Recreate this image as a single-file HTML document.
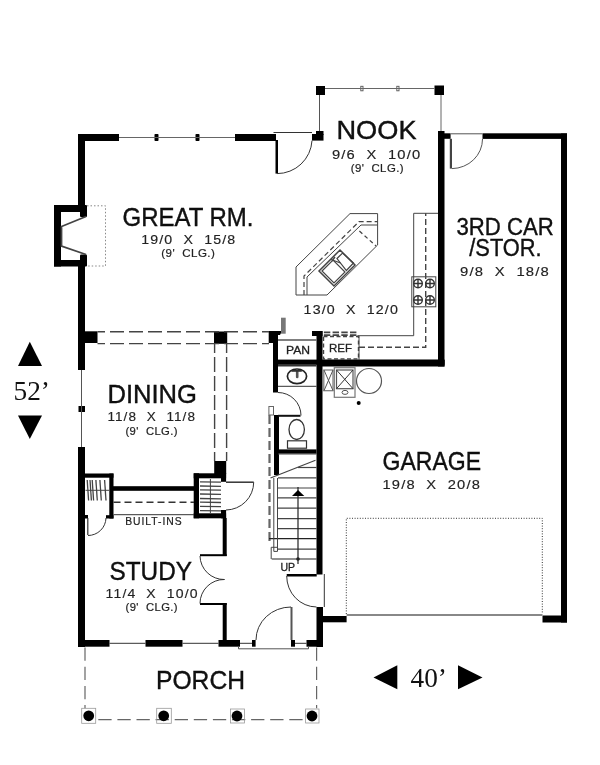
<!DOCTYPE html>
<html><head><meta charset="utf-8"><title>Floor Plan</title>
<style>
html,body{margin:0;padding:0;background:#fff;width:600px;height:765px;overflow:hidden}
svg{display:block;filter:grayscale(1)}
text{font-family:"Liberation Sans",sans-serif;fill:#111}
.t{font-size:25px;stroke:#000;stroke-width:0.35px}
.d{font-size:12.5px;white-space:pre;fill:#222;stroke:#222;stroke-width:0.15px;letter-spacing:1px}
.c{font-size:10.5px;white-space:pre;fill:#222;stroke:#222;stroke-width:0.2px;letter-spacing:0.4px}
.u{font-size:11px;fill:#222;stroke:#222;stroke-width:0.3px}
.s{font-family:"Liberation Serif",serif;font-size:27.3px}
</style></head><body>
<svg width="600" height="765" viewBox="0 0 600 765">
<g id="walls" fill="#000">
<!-- great room top wall -->
<rect x="78" y="134" width="41" height="7"/>
<rect x="154.5" y="134" width="4" height="7" rx="0.8"/>
<rect x="195.5" y="134" width="4" height="7" rx="0.8"/>
<rect x="235" y="134" width="41" height="7"/>
<!-- left wall -->
<rect x="78" y="134" width="7" height="72"/>
<rect x="78" y="266" width="7" height="104"/>
<rect x="78.5" y="406" width="6.5" height="6"/>
<rect x="78" y="447" width="7" height="200"/>
<!-- fireplace -->
<rect x="54" y="205" width="31" height="7"/>
<rect x="54" y="205" width="7" height="61.5"/>
<rect x="54" y="260" width="31" height="6.5"/>
<rect x="80" y="205" width="7" height="12" rx="1"/>
<rect x="80" y="254.5" width="7" height="12" rx="1"/>
<!-- nook posts -->
<rect x="312" y="134" width="11.5" height="6.6"/>
<rect x="316" y="131" width="7.5" height="4"/>
<rect x="316" y="86" width="9" height="9"/>
<rect x="434.5" y="85.5" width="9.5" height="9.5"/>
<rect x="360.8" y="86.3" width="2.2" height="4.5" fill="none" stroke="#555" stroke-width="0.9"/>
<rect x="396.8" y="86.3" width="2.2" height="4.5" fill="none" stroke="#555" stroke-width="0.9"/>
<!-- kitchen / 3rd car wall -->
<rect x="438" y="131" width="6.5" height="235.5"/>
<rect x="444" y="133.3" width="6.6" height="5.5"/>
<!-- 3rd car -->
<rect x="482.5" y="133.3" width="84.5" height="5.6"/>
<rect x="561" y="133.5" width="6" height="489"/>
<rect x="542.5" y="615.5" width="24.5" height="7"/>
<!-- garage left stub -->
<rect x="322" y="616" width="24.6" height="6.3"/>
<!-- kitchen bottom wall -->
<rect x="273" y="359.6" width="171.5" height="5.2"/><rect x="322" y="359.8" width="122.5" height="6.7"/>
<!-- stair/garage wall -->
<rect x="316.5" y="331" width="6" height="243.5"/>
<rect x="312" y="331" width="10.5" height="5"/>
<rect x="316.5" y="607" width="6.5" height="40"/>
<!-- pantry left wall -->
<path d="M268.7 331 L282 331 L280 335 L278 335 L278 343 L278 392.5 L273 392.5 L273 343 L268.7 343 Z"/>
<rect x="274" y="415" width="5" height="60"/>
<!-- bath wall -->
<rect x="278" y="449.4" width="38.5" height="4.3"/>
<!-- beam columns -->
<rect x="85" y="331.3" width="12.5" height="11.7"/>
<rect x="214" y="331.5" width="13.2" height="12.3"/>
<!-- coat closet -->
<rect x="214.2" y="461" width="12" height="13"/>
<rect x="193.7" y="473.3" width="32.4" height="5"/>
<rect x="193.7" y="473.3" width="5.3" height="45"/>
<rect x="193.7" y="513.3" width="32.4" height="5"/>
<rect x="221" y="473.3" width="5.1" height="8.5"/>
<rect x="221" y="510" width="5.1" height="8.3"/>
<rect x="222.7" y="518" width="4" height="38"/>
<rect x="200" y="554.2" width="26.7" height="2"/>
<rect x="200" y="603" width="26.7" height="2"/>
<rect x="222.7" y="603" width="4" height="38"/>
<!-- built-ins -->
<rect x="113" y="486.2" width="81" height="4.6"/>
<!-- left closet -->
<rect x="85" y="473.5" width="28.5" height="4.2"/>
<rect x="109.3" y="473.5" width="4.2" height="45"/>
<rect x="106" y="515.2" width="7.5" height="3.3"/>
<rect x="85" y="515" width="3" height="3.5"/>
<!-- bottom wall -->
<rect x="78.5" y="640" width="31" height="6.7"/>
<rect x="145.5" y="640" width="37" height="6.7"/>
<rect x="218.5" y="640" width="21.5" height="6.7"/>
<rect x="252" y="640" width="3.6" height="6.7"/>
<rect x="291" y="640" width="4" height="6.7"/>
<rect x="306.5" y="640" width="16.5" height="6.7"/>
<!-- garage entry door leaf -->
<rect x="286.7" y="574" width="30" height="2.5"/>
<!-- great room door leaf -->
<rect x="275.5" y="140" width="2.5" height="33.6"/>
</g>
<g id="thin" fill="none" stroke="#333" stroke-width="1">
<!-- windows -->
<line x1="119" y1="137.5" x2="235" y2="137.5" stroke="#666"/>
<line x1="81.5" y1="370" x2="81.5" y2="447" stroke="#555"/>
<line x1="109.5" y1="643.3" x2="145.5" y2="643.3"/>
<line x1="182.5" y1="643.3" x2="218.5" y2="643.3"/>
<line x1="240" y1="643.3" x2="252" y2="643.3"/>
<line x1="295" y1="643.3" x2="306.5" y2="643.3"/>
<polyline points="238.5,646 238.5,648.8 308.5,648.8 308.5,646" stroke="#555"/>
<!-- nook -->
<line x1="325" y1="88.5" x2="434.5" y2="88.5" stroke="#666"/>
<line x1="319.5" y1="95" x2="319.5" y2="131" stroke="#555"/>
<line x1="441" y1="95" x2="441" y2="131" stroke="#666"/>
<line x1="273.5" y1="132.5" x2="312" y2="132.5"/>
<path d="M312 140.6 A35 35 0 0 1 277 173.6"/>
<!-- 3rd car door -->
<line x1="450.6" y1="133.8" x2="482.5" y2="133.8" stroke="#555"/>
<line x1="450.9" y1="138.8" x2="450.9" y2="168.6" stroke-width="2.2" stroke="#444"/>
<path d="M482.5 139 A31 29.6 0 0 1 452 168.6" stroke="#555"/>
<!-- garage entry door -->
<path d="M286.7 576 A30 31 0 0 0 316.5 607"/>
<line x1="324.3" y1="574" x2="324.3" y2="607"/>
<!-- front door -->
<line x1="291.5" y1="607" x2="291.5" y2="640" stroke-width="2" stroke="#555"/>
<path d="M256 640 A35 33 0 0 1 291 607"/>
<!-- study double doors -->
<path d="M200 556 A24 24 0 0 0 224.5 579.5"/>
<path d="M224.5 579.5 A24 24 0 0 0 200 603.5"/>
<!-- coat closet door -->
<line x1="226" y1="482.2" x2="253.7" y2="482.2" stroke-width="1.5"/>
<path d="M253.7 482.2 A28 28 0 0 1 226 510"/>
<!-- left closet door -->
<line x1="87.8" y1="518" x2="87.8" y2="535" stroke-width="1.2"/>
<path d="M106 518 A18 18 0 0 1 88 535.5"/>
<g stroke="#444" stroke-width="1.3" fill="none"><line x1="87.2" y1="480" x2="88.6" y2="500.5"/><line x1="90.0" y1="480" x2="91.39999999999999" y2="500.5"/><line x1="92.2" y1="480" x2="93.6" y2="500.5"/><line x1="95.9" y1="480" x2="97.3" y2="500.5"/><line x1="99.9" y1="480" x2="101.3" y2="500.5"/><line x1="104.60000000000001" y1="480" x2="106.0" y2="500.5"/><line x1="85.5" y1="490.3" x2="109" y2="490.3" stroke-width="1"/><line x1="200" y1="481.8" x2="221" y2="482.1"/><line x1="200" y1="486" x2="221" y2="486.3"/><line x1="200" y1="489.9" x2="221" y2="490.2"/><line x1="200" y1="494" x2="221" y2="494.3"/><line x1="200" y1="498.5" x2="221" y2="498.8"/><line x1="200" y1="502.2" x2="221" y2="502.5"/><line x1="200" y1="506.4" x2="221" y2="506.7"/><line x1="200" y1="510.6" x2="221" y2="510.90000000000003"/><line x1="210.4" y1="479" x2="210.4" y2="513" stroke-width="1"/></g>
<!-- built-ins -->
<line x1="113.5" y1="514.7" x2="194" y2="514.7"/>
<line x1="113.5" y1="502.3" x2="194" y2="502.3" stroke-width="1.4" stroke-dasharray="7 4"/>
<!-- beam -->
<line x1="97.5" y1="331.8" x2="269" y2="331.8" stroke-width="1.4" stroke="#444" stroke-dasharray="14 5" stroke-dashoffset="6.5"/>
<line x1="97.5" y1="343.6" x2="269" y2="343.6" stroke-width="1.4" stroke="#444" stroke-dasharray="14 5" stroke-dashoffset="6.5"/>
<line x1="214.6" y1="344" x2="214.6" y2="461" stroke-width="1.4" stroke="#444" stroke-dasharray="15 4" stroke-dashoffset="6"/>
<line x1="226.6" y1="344" x2="226.6" y2="461" stroke-width="1.4" stroke="#444" stroke-dasharray="15 4" stroke-dashoffset="6"/>
<!-- pantry -->
<line x1="278" y1="340" x2="316.5" y2="340" stroke-width="1.6" stroke="#555"/>
<line x1="278" y1="365.8" x2="316.5" y2="365.8" stroke-width="1.5"/>
<line x1="278" y1="386.3" x2="316.5" y2="386.3"/>
<ellipse cx="297" cy="376.3" rx="9.6" ry="7.3" stroke-width="1.7" stroke="#222"/>
<path d="M297.2 371 L297.2 377" stroke-width="2.6" stroke="#555" stroke-linecap="round"/><path d="M291.5 370.9 L301.8 370.9" stroke-width="1.8" stroke="#333"/>
<!-- bath door -->
<line x1="278" y1="415.8" x2="300.5" y2="415.8" stroke-width="2" stroke="#111"/>
<path d="M278 392.5 A23 23 0 0 1 301 415.5"/>
<!-- toilet -->
<ellipse cx="296.7" cy="429.5" rx="7.7" ry="10" stroke-width="1.3"/>
<rect x="287.5" y="440.8" width="19" height="7.4" stroke-width="1.2"/>
<!-- gray stub / half wall -->
<rect x="281" y="317.7" width="4.7" height="16" fill="#777" stroke="none"/>
<rect x="268.9" y="406.5" width="4.6" height="8.5" fill="none" stroke="#666"/>
<line x1="269.5" y1="415" x2="269.5" y2="541" stroke="#666" stroke-width="2.2" stroke-dasharray="9 4"/>
<!-- hearth -->
<polyline points="87,205.8 105.5,205.8 105.5,266 87,266" stroke="#888" stroke-dasharray="1.5 2"/>
<polyline points="86,216.5 61.5,226.5 61.5,246 86,254.5" stroke="#444" stroke-width="1.8"/>
<!-- garage -->
<polyline points="346.3,614 346.3,518.3 542.3,518.3 542.3,614" stroke="#333" stroke-dasharray="1 1.6"/>
<line x1="346.6" y1="615" x2="542.5" y2="615" stroke="#888" stroke-width="2"/>
</g>
<g id="stair" fill="none" stroke="#444" stroke-width="1.2">
<line x1="278" y1="454" x2="316.5" y2="454"/>
<line x1="270.5" y1="478" x2="315.5" y2="460.3"/>
<line x1="298" y1="467.5" x2="316.5" y2="467.5"/>
<line x1="278" y1="477.8" x2="316.5" y2="477.8"/>
<line x1="278" y1="488" x2="316.5" y2="488"/>
<line x1="278" y1="497.8" x2="316.5" y2="497.8"/>
<line x1="278" y1="508.1" x2="316.5" y2="508.1"/>
<line x1="278" y1="518.7" x2="316.5" y2="518.7"/>
<line x1="278" y1="528.7" x2="316.5" y2="528.7"/>
<line x1="269" y1="538.6" x2="316.5" y2="538.6" stroke="#222"/>
<line x1="278" y1="549.1" x2="316.5" y2="549.1"/>
<line x1="271.7" y1="559" x2="316.5" y2="559" stroke="#222"/>
<line x1="273.8" y1="478" x2="273.8" y2="551.4" stroke-width="1"/>
<line x1="277.5" y1="478" x2="277.5" y2="551.4" stroke-width="1"/>
<line x1="273.8" y1="551.4" x2="277.5" y2="551.4" stroke-width="1"/>
<polyline points="278,547.3 271.2,547.3 271.2,559" stroke-width="1"/>
<line x1="298" y1="487" x2="298" y2="564" stroke="#222"/>
<circle cx="298" cy="559" r="1.8" fill="#222" stroke="none"/>
<polygon points="292,496 304.3,496 298,490" fill="#000" stroke="none"/>
</g>
<g id="kitchen" fill="none" stroke="#444" stroke-width="1">
<!-- REF -->
<rect x="323.5" y="336.5" width="35" height="22.5" stroke-dasharray="4 2.5" stroke-width="1.4"/>
<line x1="323.9" y1="332.3" x2="358" y2="332.3" stroke-dasharray="6.4 2.3" stroke-width="1.8" stroke="#444"/>
<line x1="323.9" y1="335.2" x2="358" y2="335.2" stroke-dasharray="6.4 2.3" stroke-width="1.8" stroke="#444"/>
<line x1="359" y1="336" x2="359" y2="360"/>
<polyline points="357.5,335.7 413.7,335.7 413.7,213.3 438,213.3"/>
<polyline points="359,347.3 425.7,347.3 425.7,213.3" stroke-dasharray="6 3" stroke-width="1.4"/>
<!-- cooktop -->
<rect x="411.8" y="276.8" width="24" height="30"/>
<g stroke-width="1.4" stroke="#333">
<circle cx="418" cy="283.5" r="4.3"/><circle cx="430" cy="283.5" r="4.3"/>
<circle cx="418" cy="300" r="4.3"/><circle cx="430" cy="300" r="4.3"/>
<path d="M413.7 283.5h8.6M418 279.2v8.6M425.7 283.5h8.6M430 279.2v8.6M413.7 300h8.6M418 295.7v8.6M425.7 300h8.6M430 295.7v8.6"/>
</g>
<!-- island -->
<polygon points="296,295 296,267 350,213.6 377.6,213.6 377.6,245 327,295"/>
<polyline points="307,295 307,277 361,225 377.6,225"/>
<polyline points="304,295 304,276 359,221.6 377.6,221.6" stroke-dasharray="5 3" stroke-width="1.2"/>
<line x1="359.4" y1="231" x2="376" y2="246" stroke-dasharray="4 3" stroke-width="1.3"/>
<!-- sink -->
<polygon points="319,271 340,250 355,265 334,286" stroke-width="1.5"/>
<polygon points="322,271 333,260 345,272 334,283" stroke-width="1.2"/>
<polygon points="337,258.5 342.6,253 353.5,263 346.4,270.5" stroke-width="1.2"/>
<path d="M331 259.5 L340.5 263 M335 257 l-3 4" stroke-width="1.3"/>
<!-- laundry -->
<rect x="323.8" y="370" width="9.2" height="20.7" stroke="#777" stroke-width="1.2"/>
<path d="M324 370 L333 390.7 M333 370 L324 390.7" stroke="#555"/>
<rect x="334.3" y="367.7" width="20.7" height="29.6" stroke="#777" stroke-width="1.2"/>
<rect x="336.5" y="370" width="16.5" height="18.7" stroke="#555" stroke-width="1.2"/>
<path d="M336.5 370 L353 388.7 M353 370 L336.5 388.7" stroke="#333"/>
<ellipse cx="345" cy="392.4" rx="3" ry="2" stroke="#555"/>
<circle cx="369" cy="381" r="12.5" stroke="#555" stroke-width="1.2"/>
<circle cx="358.7" cy="403" r="2" fill="#000" stroke="none"/>
</g>
<g id="porch" fill="none" stroke="#666" stroke-width="1.2">
<line x1="85" y1="647.5" x2="85" y2="708.3" stroke-dasharray="13.3 5.9"/>
<line x1="316.6" y1="647.5" x2="316.6" y2="708.3" stroke-dasharray="13.3 5.9"/>
<line x1="98.3" y1="719.7" x2="305" y2="719.7" stroke-dasharray="13.3 5.8"/>
<g stroke="#999" stroke-width="0.8">
<rect x="81.7" y="708.3" width="14" height="15"/>
<rect x="156.7" y="708.3" width="14.6" height="15"/>
<rect x="230.4" y="709" width="14" height="14"/>
<rect x="305.6" y="709" width="13.4" height="14"/>
</g>
<g fill="#000" stroke="none">
<circle cx="88.7" cy="715.8" r="5.4"/>
<circle cx="163.7" cy="715.8" r="5.4"/>
<circle cx="237" cy="716" r="5.4"/>
<circle cx="312" cy="716" r="5.4"/>
</g>
</g>
<g id="dims" fill="#000">
<polygon points="29.8,341.8 18,366.1 42,366.1"/>
<polygon points="18,415.5 42,415.5 29.8,439"/>
<polygon points="373.5,677.5 397.3,665.2 397.3,689.2"/>
<polygon points="458,665.2 458,689.2 482.5,677.5"/>
</g>
<g id="labels" opacity="0.999">
<text class="t" x="122.5" y="225.8" textLength="131" lengthAdjust="spacingAndGlyphs">GREAT RM.</text>
<text class="d" x="141.3" y="244.3" textLength="95" lengthAdjust="spacingAndGlyphs">19/0  X  15/8</text>
<text class="c" x="161.3" y="257" textLength="54" lengthAdjust="spacingAndGlyphs">(9'  CLG.)</text>
<text class="t" x="336.5" y="139.3" textLength="80" lengthAdjust="spacingAndGlyphs">NOOK</text>
<text class="d" x="332" y="158.8" textLength="89.3" lengthAdjust="spacingAndGlyphs">9/6  X  10/0</text>
<text class="c" x="350.7" y="172" textLength="53.3" lengthAdjust="spacingAndGlyphs">(9'  CLG.)</text>
<text class="t" style="font-size:23.5px" x="456.4" y="234.6" textLength="97.3" lengthAdjust="spacingAndGlyphs">3RD CAR</text>
<text class="t" style="font-size:23.5px" x="469.3" y="256.2" textLength="72.4" lengthAdjust="spacingAndGlyphs">/STOR.</text>
<text class="d" x="460" y="275.5" textLength="90" lengthAdjust="spacingAndGlyphs">9/8  X  18/8</text>
<text class="d" x="303.6" y="313.5" textLength="95.4" lengthAdjust="spacingAndGlyphs">13/0  X  12/0</text>
<text class="t" x="107.4" y="403" textLength="89.6" lengthAdjust="spacingAndGlyphs">DINING</text>
<text class="d" x="107.4" y="421" textLength="88.6" lengthAdjust="spacingAndGlyphs">11/8  X  11/8</text>
<text class="c" x="125.4" y="434.5" textLength="52.6" lengthAdjust="spacingAndGlyphs">(9'  CLG.)</text>
<text class="t" x="382.5" y="470" textLength="98.5" lengthAdjust="spacingAndGlyphs">GARAGE</text>
<text class="d" x="382.5" y="489" textLength="98.5" lengthAdjust="spacingAndGlyphs">19/8  X  20/8</text>
<text class="t" x="109.5" y="580" textLength="82.5" lengthAdjust="spacingAndGlyphs">STUDY</text>
<text class="d" x="105.6" y="598" textLength="93" lengthAdjust="spacingAndGlyphs">11/4  X  10/0</text>
<text class="c" x="125.5" y="610.5" textLength="52.5" lengthAdjust="spacingAndGlyphs">(9'  CLG.)</text>
<text class="t" x="156" y="689" textLength="89" lengthAdjust="spacingAndGlyphs">PORCH</text>
<text class="c" x="125.2" y="524.8" textLength="57.5" lengthAdjust="spacingAndGlyphs" style="font-size:10.5px;letter-spacing:1px">BUILT-INS</text>
<text class="u" x="286" y="353.7" textLength="24" lengthAdjust="spacingAndGlyphs">PAN</text>
<text class="u" x="329" y="352" textLength="23" lengthAdjust="spacingAndGlyphs">REF</text>
<text class="u" x="280.4" y="571.3" textLength="14.6" lengthAdjust="spacingAndGlyphs">UP</text>
<text class="s" x="13.5" y="400.3">52’</text>
<text class="s" x="410.5" y="686.8">40’</text>
</g>
</svg>
</body></html>
